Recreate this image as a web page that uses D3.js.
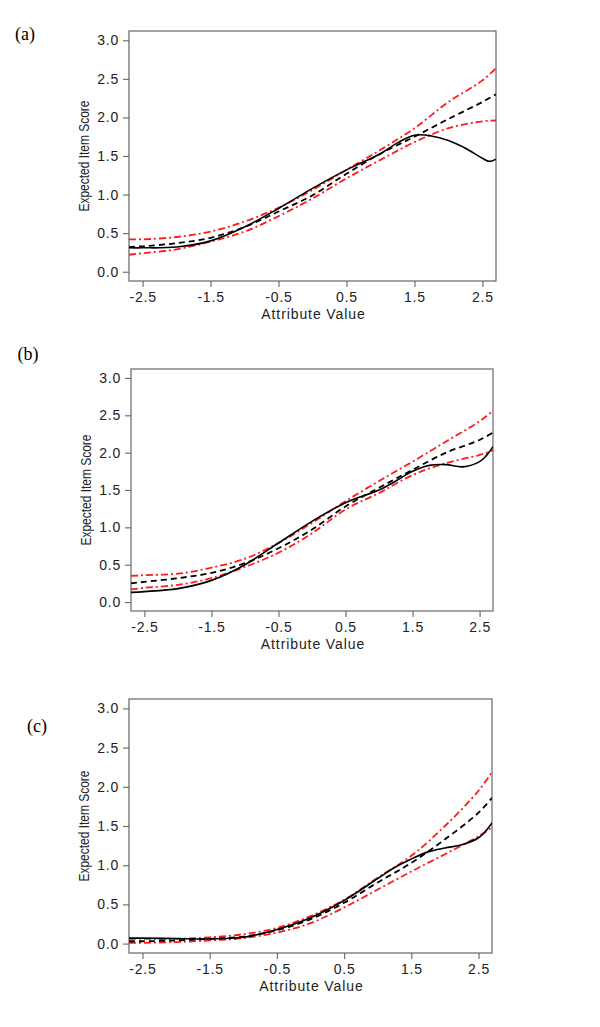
<!DOCTYPE html>
<html>
<head>
<meta charset="utf-8">
<script src="https://cdn.jsdelivr.net/npm/d3@7/dist/d3.min.js"></script>
<style>
  html, body { margin: 0; padding: 0; background: #fff; }
  svg { display: block; }
</style>
</head>
<body>
<svg id="chart" width="600" height="1027"></svg>
<script>
// ---------------- data ----------------
const panelLabels = ["(a)", "(b)", "(c)"];
const xTicks = [-2.5, -1.5, -0.5, 0.5, 1.5, 2.5];
const yTicks = [0, 0.5, 1, 1.5, 2, 2.5, 3];
const xTickLabels = ["-2.5", "-1.5", "-0.5", "0.5", "1.5", "2.5"];
const yTickLabels = ["0.0", "0.5", "1.0", "1.5", "2.0", "2.5", "3.0"];
const xLabel = "Attribute Value";
const yLabel = "Expected Item Score";

// x grid for model / confidence curves
const xGrid = [-2.7, -2.5, -2, -1.5, -1, -0.5, 0, 0.5, 1, 1.5, 2, 2.5, 2.7];
// finer x grid for the empirical (solid) curves
const xFine = [-2.7, -2.5, -2, -1.5, -1, -0.5, 0, 0.5, 1, 1.25, 1.5, 1.75, 2, 2.25, 2.5, 2.6, 2.7];

// Panel (a)
const aEmpirical = [0.31, 0.31, 0.32, 0.40, 0.58, 0.82, 1.08, 1.32, 1.53, 1.67, 1.77, 1.76, 1.70, 1.60, 1.47, 1.43, 1.46];
const aModel     = [0.32, 0.33, 0.37, 0.44, 0.58, 0.78, 0.99, 1.27, 1.53, 1.75, 1.98, 2.20, 2.30];
const aUpper     = [0.42, 0.42, 0.45, 0.52, 0.65, 0.83, 1.06, 1.32, 1.58, 1.86, 2.20, 2.48, 2.64];
const aLower     = [0.22, 0.24, 0.29, 0.39, 0.52, 0.72, 0.95, 1.21, 1.45, 1.68, 1.86, 1.95, 1.96];

// Panel (b)
const bEmpirical = [0.13, 0.14, 0.18, 0.29, 0.50, 0.79, 1.08, 1.33, 1.50, 1.62, 1.75, 1.83, 1.84, 1.81, 1.88, 1.96, 2.08];
const bModel     = [0.25, 0.27, 0.32, 0.39, 0.52, 0.72, 0.97, 1.28, 1.53, 1.77, 2.00, 2.17, 2.27];
const bUpper     = [0.35, 0.36, 0.38, 0.46, 0.58, 0.79, 1.06, 1.35, 1.62, 1.88, 2.15, 2.42, 2.56];
const bLower     = [0.17, 0.19, 0.23, 0.32, 0.47, 0.66, 0.92, 1.24, 1.46, 1.70, 1.86, 1.97, 2.03];

// Panel (c)
const cEmpirical = [0.07, 0.07, 0.065, 0.06, 0.08, 0.18, 0.33, 0.55, 0.83, 0.97, 1.08, 1.17, 1.22, 1.26, 1.35, 1.43, 1.54];
const cModel     = [0.03, 0.03, 0.04, 0.06, 0.09, 0.17, 0.31, 0.52, 0.78, 1.03, 1.33, 1.67, 1.86];
const cUpper     = [0.06, 0.06, 0.06, 0.08, 0.12, 0.20, 0.35, 0.56, 0.84, 1.12, 1.50, 1.95, 2.19];
const cLower     = [0.01, 0.01, 0.02, 0.04, 0.07, 0.14, 0.26, 0.46, 0.69, 0.92, 1.14, 1.37, 1.48];

const panelsData = [
  { emp: aEmpirical, model: aModel, upper: aUpper, lower: aLower },
  { emp: bEmpirical, model: bModel, upper: bUpper, lower: bLower },
  { emp: cEmpirical, model: cModel, upper: cUpper, lower: cLower }
];

// ---------------- layout ----------------
const layouts = [
  { left: 129, right: 496, top: 31,  bottom: 281, label: [25, 40],  ytitleX: 89 },
  { left: 131, right: 493, top: 369, bottom: 611, label: [28, 360], ytitleX: 91 },
  { left: 129, right: 492, top: 699, bottom: 953, label: [37, 732], ytitleX: 89 }
];

const svg = d3.select("#chart");
const sans = "'Liberation Sans', Arial, sans-serif";

panelsData.forEach((pd, i) => {
  const L = layouts[i];
  const x = d3.scaleLinear().domain([-2.7, 2.7]).range([L.left, L.right]);
  const y = d3.scaleLinear().domain([-0.12, 3.12]).range([L.bottom, L.top]);
  const g = svg.append("g");

  // clip
  const clipId = "clip" + i;
  svg.append("clipPath").attr("id", clipId)
    .append("rect").attr("x", L.left).attr("y", L.top)
    .attr("width", L.right - L.left).attr("height", L.bottom - L.top);

  // box
  g.append("rect")
    .attr("x", L.left).attr("y", L.top)
    .attr("width", L.right - L.left).attr("height", L.bottom - L.top)
    .attr("fill", "none").attr("stroke", "#666").attr("stroke-width", 1.2);

  // y axis
  const yAxis = d3.axisLeft(y).tickValues(yTicks).tickSize(6).tickPadding(4)
    .tickFormat((d, j) => yTickLabels[j]);
  const ya = g.append("g").attr("transform", `translate(${L.left},0)`).call(yAxis);
  ya.select(".domain").remove();
  ya.selectAll(".tick line").attr("stroke", "#666").attr("stroke-width", 1.1);
  ya.selectAll(".tick text").attr("font-family", sans).attr("font-size", 14)
    .attr("letter-spacing", "0.8px").attr("fill", "#222");

  // x axis
  const xAxis = d3.axisBottom(x).tickValues(xTicks).tickSize(6).tickPadding(5)
    .tickFormat((d, j) => xTickLabels[j]);
  const xa = g.append("g").attr("transform", `translate(0,${L.bottom})`).call(xAxis);
  xa.select(".domain").remove();
  xa.selectAll(".tick line").attr("stroke", "#666").attr("stroke-width", 1.1);
  xa.selectAll(".tick text").attr("font-family", sans).attr("font-size", 14)
    .attr("letter-spacing", "0.8px").attr("fill", "#222");

  // axis titles
  g.append("text")
    .attr("x", (L.left + L.right) / 2 + 1).attr("y", L.bottom + 38)
    .attr("text-anchor", "middle").attr("font-family", sans).attr("font-size", 14)
    .attr("letter-spacing", "0.9px").attr("fill", "#222").text(xLabel);

  g.append("text")
    .attr("transform", `translate(${L.ytitleX},${(L.top + L.bottom) / 2}) rotate(-90)`)
    .attr("text-anchor", "middle").attr("font-family", sans).attr("font-size", 14)
    .attr("textLength", 111).attr("lengthAdjust", "spacingAndGlyphs")
    .attr("fill", "#222").text(yLabel);

  // panel label
  g.append("text")
    .attr("x", L.label[0]).attr("y", L.label[1])
    .attr("text-anchor", "middle")
    .attr("font-family", "'Liberation Serif', 'Times New Roman', serif")
    .attr("font-size", 18).attr("fill", "#000").text(panelLabels[i]);

  // lines
  const line = d3.line().x(d => x(d[0])).y(d => y(d[1])).curve(d3.curveCatmullRom.alpha(0.5));
  const lg = g.append("g").attr("clip-path", `url(#${clipId})`);

  const red = "#ff1a1a";
  lg.append("path").datum(xGrid.map((v, k) => [v, pd.upper[k]]))
    .attr("d", line).attr("fill", "none").attr("stroke", red).attr("stroke-width", 1.8)
    .attr("stroke-dasharray", "7,3,2,3");
  lg.append("path").datum(xGrid.map((v, k) => [v, pd.lower[k]]))
    .attr("d", line).attr("fill", "none").attr("stroke", red).attr("stroke-width", 1.8)
    .attr("stroke-dasharray", "7,3,2,3");
  lg.append("path").datum(xGrid.map((v, k) => [v, pd.model[k]]))
    .attr("d", line).attr("fill", "none").attr("stroke", "#000").attr("stroke-width", 1.8)
    .attr("stroke-dasharray", "6,4");
  lg.append("path").datum(xFine.map((v, k) => [v, pd.emp[k]]))
    .attr("d", line).attr("fill", "none").attr("stroke", "#000").attr("stroke-width", 1.6);
});
</script>
</body>
</html>
